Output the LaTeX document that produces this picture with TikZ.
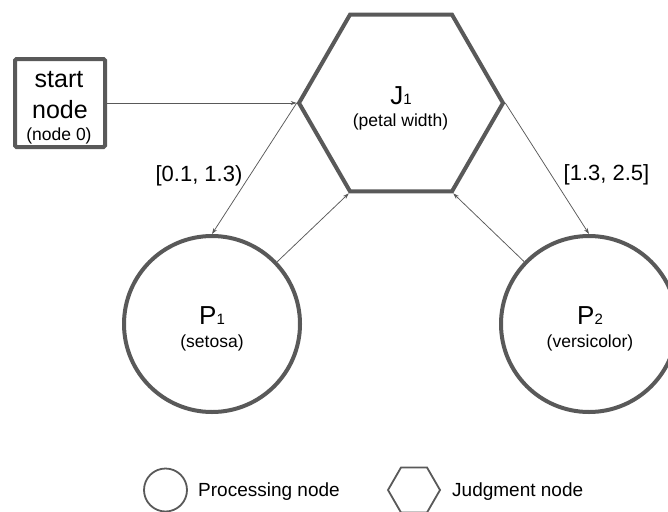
\documentclass[tikz,border=0pt]{standalone}
\usepackage{fontspec}
\setmainfont{Liberation Sans}
\usetikzlibrary{shapes.geometric,arrows.meta}
\definecolor{strokegray}{HTML}{595959}
\newcommand\bigtxt{\fontsize{25}{28}\selectfont}
\newcommand\nametxt{\fontsize{26}{29}\selectfont}
\newcommand\smalltxt{\fontsize{17.5}{20}\selectfont}
\newcommand\rangetxt{\fontsize{22}{25}\selectfont}
\newcommand\legtxt{\fontsize{19}{22}\selectfont}
\newcommand\idx[1]{{\fontsize{15}{15}\selectfont #1}}
\tikzset{
  hexa/.style={regular polygon, regular polygon sides=6, draw=strokegray, line width=4pt, inner sep=0pt},
  proc/.style={circle, draw=strokegray, line width=4pt, inner sep=0pt},
  startbox/.style={rectangle, draw=strokegray, line width=4pt, rounded corners=1.5pt, inner sep=0pt},
  conn/.style={draw=strokegray, line width=0.75pt, -{Stealth[length=6pt,width=4pt]}},
  txt/.style={anchor=base, inner sep=0pt, text=black},
}
\begin{document}
\begin{tikzpicture}[x=1pt,y=-1pt]
\useasboundingbox (0,0) rectangle (668,511);
\clip (0,0) rectangle (668,511);

% main shapes
\node[startbox, minimum width=90pt, minimum height=88pt] (S) at (60,103) {};
\node[hexa, minimum size=204pt] (J1) at (401,103) {};
\node[proc, minimum size=176pt] (P1) at (212,324) {};
\node[proc, minimum size=176pt] (P2) at (589,324) {};

% texts inside the shapes
\node[txt] (s1) at (59,87) {\bigtxt start};
\node[txt] (s2) at (60,118) {\bigtxt node};
\node[txt] (s3) at (59,140) {\smalltxt (node 0)};
\node[txt] (j1) at (401,104) {\nametxt J\idx{1}};
\node[txt] (j2) at (400.5,126.5) {\smalltxt (petal width)};
\node[txt] (p1) at (212,324) {\nametxt P\idx{1}};
\node[txt] (p1b) at (212,347) {\smalltxt (setosa)};
\node[txt] (p2) at (590,324) {\nametxt P\idx{2}};
\node[txt] (p2b) at (590,347) {\smalltxt (versicolor)};

% connectors
\draw[conn] (S.east) -- (J1.180);
\draw[conn] (J1.180) -- (P1.north);
\draw[conn] (P1) -- (J1.240);
\draw[conn] (J1.0) -- (P2.north);
\draw[conn] (P2) -- (J1.300);

% interval labels
\node[txt] (r1) at (199,181) {\rangetxt [0.1, 1.3)};
\node[txt] (r2) at (606.5,180) {\rangetxt [1.3, 2.5]};

% legend
\node[proc, minimum size=43pt, line width=1.8pt] (LP) at (165.5,490) {};
\node[txt, anchor=base west] (LPt) at (198,496) {\legtxt Processing node};
\node[hexa, minimum size=52pt, line width=1.8pt] (LJ) at (414,490) {};
\node[txt, anchor=base west] (LJt) at (452,496) {\legtxt Judgment node};
\end{tikzpicture}
\end{document}
